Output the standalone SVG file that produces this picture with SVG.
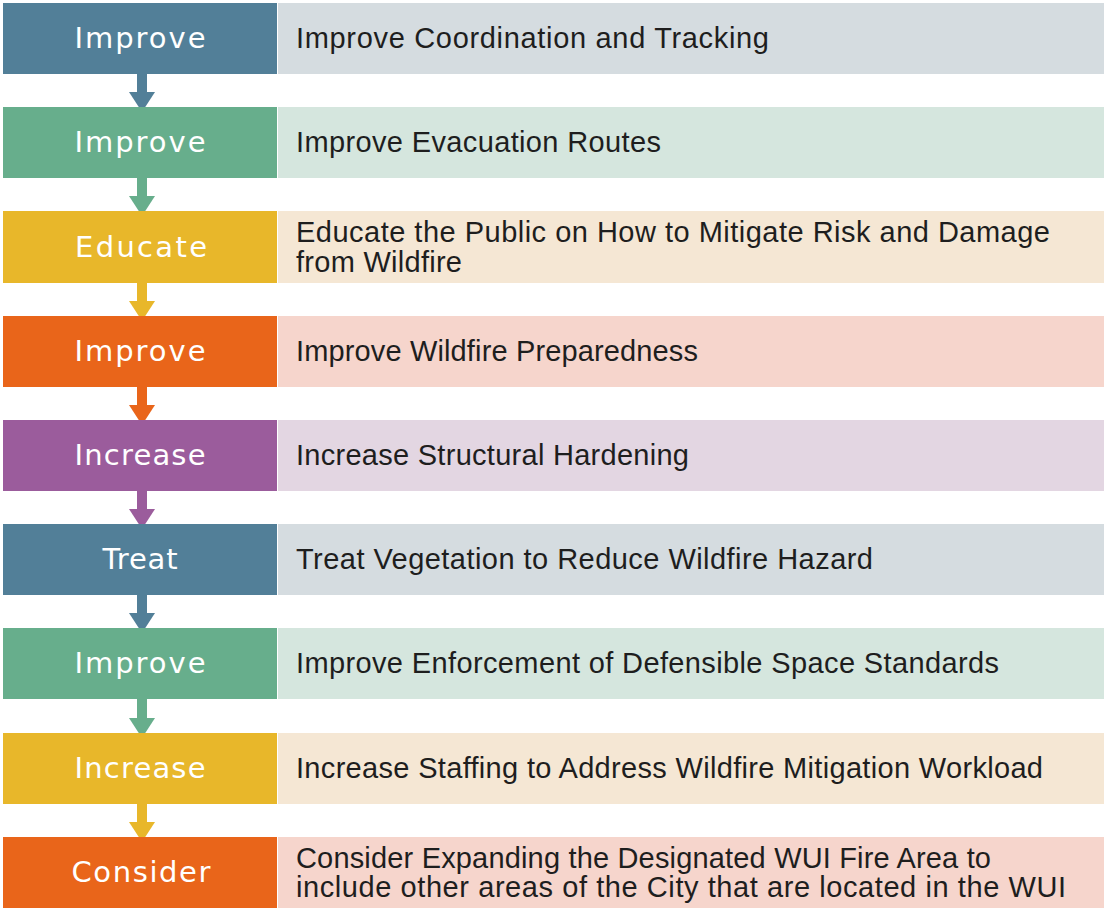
<svg xmlns="http://www.w3.org/2000/svg" width="1105" height="909" viewBox="0 0 1105 909">
<style>
.lbl{font-family:"DejaVu Sans","Liberation Sans",sans-serif;font-size:29px;fill:#ffffff;text-anchor:middle}
.txt{font-family:"Liberation Sans",Arial,sans-serif;font-size:29px;fill:#1e1e1e}
.blue{fill:#527f98}.green{fill:#67ae8c}.yellow{fill:#e8b72a}.orange{fill:#e9651a}.purple{fill:#9b5c9c}
.lblue{fill:#d5dce0}.lgreen{fill:#d5e6de}.lyellow{fill:#f5e7d4}.lorange{fill:#f6d5cc}.lpurple{fill:#e3d6e2}
</style>
<rect width="1105" height="909" fill="#ffffff"/>
<g id="connectors">
<g class="blue"><rect x="137" y="74" width="10" height="19"/><polygon points="129,92 155,92 142,112"/></g>
<g class="green"><rect x="137" y="178" width="10" height="19"/><polygon points="129,196 155,196 142,216"/></g>
<g class="yellow"><rect x="137" y="282" width="10" height="20"/><polygon points="129,301 155,301 142,321"/></g>
<g class="orange"><rect x="137" y="387" width="10" height="19"/><polygon points="129,405 155,405 142,425"/></g>
<g class="purple"><rect x="137" y="491" width="10" height="19"/><polygon points="129,509 155,509 142,529"/></g>
<g class="blue"><rect x="137" y="595" width="10" height="19"/><polygon points="129,613 155,613 142,633"/></g>
<g class="green"><rect x="137" y="699" width="10" height="20"/><polygon points="129,718 155,718 142,738"/></g>
<g class="yellow"><rect x="137" y="804" width="10" height="19"/><polygon points="129,822 155,822 142,842"/></g>
</g>
<g id="row1"><rect x="278" y="3" width="826" height="71" class="lblue"/><rect x="3" y="3" width="274" height="71" class="blue"/>
<text x="140" y="48" class="lbl" textLength="131">Improve</text>
<text x="296" y="48" class="txt" textLength="473">Improve Coordination and Tracking</text></g>
<g id="row2"><rect x="278" y="107" width="826" height="71" class="lgreen"/><rect x="3" y="107" width="274" height="71" class="green"/>
<text x="140" y="152" class="lbl" textLength="131">Improve</text>
<text x="296" y="152" class="txt" textLength="365">Improve Evacuation Routes</text></g>
<g id="row3"><rect x="278" y="211" width="826" height="72" class="lyellow"/><rect x="3" y="211" width="274" height="72" class="yellow"/>
<text x="141" y="257" class="lbl" textLength="132">Educate</text>
<text x="296" y="242" class="txt" textLength="754">Educate the Public on How to Mitigate Risk and Damage</text>
<text x="296" y="272" class="txt" textLength="166">from Wildfire</text></g>
<g id="row4"><rect x="278" y="316" width="826" height="71" class="lorange"/><rect x="3" y="316" width="274" height="71" class="orange"/>
<text x="140" y="361" class="lbl" textLength="131">Improve</text>
<text x="296" y="361" class="txt" textLength="402">Improve Wildfire Preparedness</text></g>
<g id="row5"><rect x="278" y="420" width="826" height="71" class="lpurple"/><rect x="3" y="420" width="274" height="71" class="purple"/>
<text x="140" y="465" class="lbl" textLength="131">Increase</text>
<text x="296" y="465" class="txt" textLength="393">Increase Structural Hardening</text></g>
<g id="row6"><rect x="278" y="524" width="826" height="71" class="lblue"/><rect x="3" y="524" width="274" height="71" class="blue"/>
<text x="140" y="569" class="lbl" textLength="75">Treat</text>
<text x="296" y="569" class="txt" textLength="577">Treat Vegetation to Reduce Wildfire Hazard</text></g>
<g id="row7"><rect x="278" y="628" width="826" height="71" class="lgreen"/><rect x="3" y="628" width="274" height="71" class="green"/>
<text x="140" y="673" class="lbl" textLength="131">Improve</text>
<text x="296" y="673" class="txt" textLength="703">Improve Enforcement of Defensible Space Standards</text></g>
<g id="row8"><rect x="278" y="733" width="826" height="71" class="lyellow"/><rect x="3" y="733" width="274" height="71" class="yellow"/>
<text x="140" y="778" class="lbl" textLength="131">Increase</text>
<text x="296" y="778" class="txt" textLength="747">Increase Staffing to Address Wildfire Mitigation Workload</text></g>
<g id="row9"><rect x="278" y="837" width="826" height="71" class="lorange"/><rect x="3" y="837" width="274" height="71" class="orange"/>
<text x="141" y="882" class="lbl" textLength="139">Consider</text>
<text x="296" y="868" class="txt" textLength="695">Consider Expanding the Designated WUI Fire Area to</text>
<text x="296" y="897" class="txt" textLength="770">include other areas of the City that are located in the WUI</text></g>
</svg>
